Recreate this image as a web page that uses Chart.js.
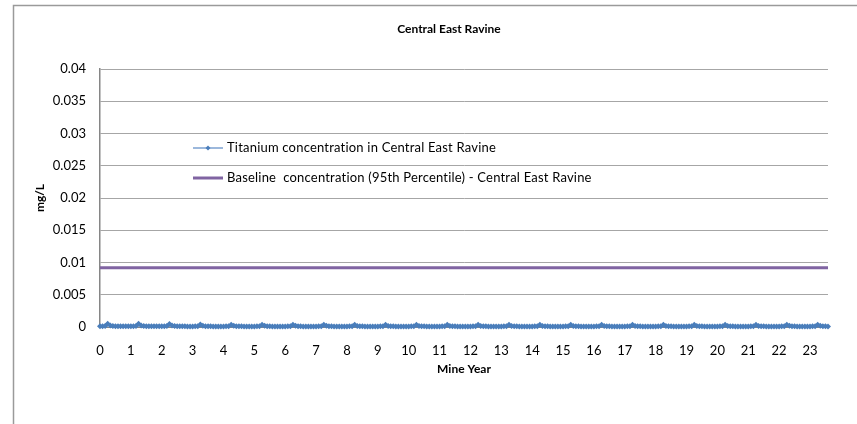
<!DOCTYPE html>
<html>
<head>
<meta charset="utf-8">
<title>Central East Ravine</title>
<script src="https://cdn.jsdelivr.net/npm/chart.js@4/dist/chart.umd.min.js"></script>
<style>
  html, body { margin: 0; padding: 0; background: #fff; }
  #wrap { position: relative; width: 857px; height: 424px; }
</style>
</head>
<body>
<div id="wrap"><canvas id="ravineChart"></canvas></div>
<script>
// Monthly titanium concentration (mg/L), one row per mine year
const titanium = [
  0.00010, 0.00010, 0.00015, 0.00050, 0.00025, 0.00015, 0.00012, 0.00010, 0.00010, 0.00010, 0.00010, 0.00010, // 0
  0.00010, 0.00010, 0.00015, 0.00050, 0.00022, 0.00015, 0.00012, 0.00010, 0.00010, 0.00010, 0.00010, 0.00010, // 1
  0.00010, 0.00010, 0.00015, 0.00048, 0.00022, 0.00015, 0.00012, 0.00010, 0.00010, 0.00010, 0.00008, 0.00008, // 2
  0.00008, 0.00010, 0.00012, 0.00038, 0.00020, 0.00012, 0.00010, 0.00010, 0.00008, 0.00008, 0.00008, 0.00008, // 3
  0.00008, 0.00010, 0.00012, 0.00036, 0.00018, 0.00012, 0.00010, 0.00010, 0.00008, 0.00008, 0.00008, 0.00008, // 4
  0.00008, 0.00010, 0.00012, 0.00036, 0.00018, 0.00012, 0.00010, 0.00008, 0.00008, 0.00008, 0.00008, 0.00008, // 5
  0.00008, 0.00010, 0.00012, 0.00035, 0.00018, 0.00012, 0.00010, 0.00008, 0.00008, 0.00008, 0.00008, 0.00008, // 6
  0.00008, 0.00010, 0.00012, 0.00035, 0.00018, 0.00012, 0.00010, 0.00008, 0.00008, 0.00008, 0.00008, 0.00008, // 7
  0.00008, 0.00010, 0.00012, 0.00034, 0.00016, 0.00012, 0.00010, 0.00008, 0.00008, 0.00008, 0.00008, 0.00008, // 8
  0.00008, 0.00010, 0.00012, 0.00034, 0.00016, 0.00012, 0.00010, 0.00008, 0.00008, 0.00008, 0.00008, 0.00008, // 9
  0.00008, 0.00010, 0.00012, 0.00034, 0.00016, 0.00012, 0.00010, 0.00008, 0.00008, 0.00008, 0.00008, 0.00008, // 10
  0.00008, 0.00010, 0.00012, 0.00034, 0.00016, 0.00012, 0.00010, 0.00008, 0.00008, 0.00008, 0.00008, 0.00008, // 11
  0.00008, 0.00010, 0.00012, 0.00033, 0.00016, 0.00012, 0.00010, 0.00008, 0.00008, 0.00008, 0.00008, 0.00008, // 12
  0.00008, 0.00010, 0.00012, 0.00033, 0.00016, 0.00012, 0.00010, 0.00008, 0.00008, 0.00008, 0.00008, 0.00008, // 13
  0.00008, 0.00010, 0.00012, 0.00033, 0.00016, 0.00012, 0.00010, 0.00008, 0.00008, 0.00008, 0.00008, 0.00008, // 14
  0.00008, 0.00010, 0.00012, 0.00034, 0.00016, 0.00012, 0.00010, 0.00008, 0.00008, 0.00008, 0.00008, 0.00008, // 15
  0.00008, 0.00010, 0.00012, 0.00034, 0.00016, 0.00012, 0.00010, 0.00008, 0.00008, 0.00008, 0.00008, 0.00008, // 16
  0.00008, 0.00010, 0.00012, 0.00033, 0.00016, 0.00012, 0.00010, 0.00008, 0.00008, 0.00008, 0.00008, 0.00008, // 17
  0.00008, 0.00010, 0.00012, 0.00034, 0.00016, 0.00012, 0.00010, 0.00008, 0.00008, 0.00008, 0.00008, 0.00008, // 18
  0.00008, 0.00010, 0.00012, 0.00035, 0.00016, 0.00012, 0.00010, 0.00008, 0.00008, 0.00008, 0.00008, 0.00008, // 19
  0.00008, 0.00010, 0.00012, 0.00035, 0.00016, 0.00012, 0.00010, 0.00008, 0.00008, 0.00008, 0.00008, 0.00008, // 20
  0.00008, 0.00010, 0.00012, 0.00035, 0.00016, 0.00012, 0.00010, 0.00008, 0.00008, 0.00008, 0.00008, 0.00008, // 21
  0.00008, 0.00010, 0.00012, 0.00036, 0.00018, 0.00012, 0.00010, 0.00008, 0.00008, 0.00008, 0.00008, 0.00008, // 22
  0.00008, 0.00010, 0.00012, 0.00036, 0.00018, 0.00012, 0.00010, 0.00008                                        // 23
];

// 95th percentile baseline (mg/L)
const baselineValue = 0.0092;

// categories are months since start of mining; axis is labelled in years
const monthsPerYear = 12;
const months = titanium.map((v, i) => i);
const yearTicks = [0, 1, 2, 3, 4, 5, 6, 7, 8, 9, 10, 11, 12, 13, 14, 15, 16, 17, 18, 19, 20, 21, 22, 23];
const yTicks = ['0', '0.005', '0.01', '0.015', '0.02', '0.025', '0.03', '0.035', '0.04'];

const seriesLabels = [
  'Titanium concentration in Central East Ravine',
  'Baseline  concentration (95th Percentile) - Central East Ravine'
];
const seriesColors = ['#4a7ebb', '#8064a2'];

Chart.defaults.font.family = 'Lato, "Open Sans", sans-serif';
Chart.defaults.font.size = 13;
Chart.defaults.color = '#000';

// draws the outer chart frame, title and the in-plot legend (Excel style)
const excelFrame = {
  id: 'excelFrame',
  beforeDraw(chart) {
    const ctx = chart.ctx;
    ctx.save();
    ctx.strokeStyle = '#9a9a9a';
    ctx.lineWidth = 1.5;
    ctx.beginPath();
    ctx.moveTo(13.5, 424);
    ctx.lineTo(13.5, 5.5);
    ctx.lineTo(857, 5.5);
    ctx.stroke();
    ctx.restore();
  },
  afterDraw(chart) {
    const ctx = chart.ctx;
    ctx.save();
    ctx.fillStyle = '#000';
    ctx.font = 'bold 12px Lato, sans-serif';
    ctx.textAlign = 'center';
    ctx.textBaseline = 'middle';
    ctx.fillText('Central East Ravine', 449, 29);

    // legend rows
    const rows = [148, 178];
    ctx.font = '13px Lato, sans-serif';
    ctx.letterSpacing = '0.2px';
    ctx.textAlign = 'left';
    rows.forEach((y, i) => {
      ctx.strokeStyle = i === 0 ? '#7ba1d0' : seriesColors[1];
      ctx.lineWidth = i === 0 ? 1.5 : 3;
      ctx.beginPath();
      ctx.moveTo(193, y);
      ctx.lineTo(223, y);
      ctx.stroke();
      if (i === 0) {
        ctx.fillStyle = seriesColors[0];
        ctx.beginPath();
        ctx.moveTo(208, y - 2.5);
        ctx.lineTo(210.5, y);
        ctx.lineTo(208, y + 2.5);
        ctx.lineTo(205.5, y);
        ctx.closePath();
        ctx.fill();
      }
      ctx.fillStyle = '#000';
      ctx.fillText(seriesLabels[i], 227, y);
    });
    ctx.restore();
  }
};

const ctx = document.getElementById('ravineChart').getContext('2d');

const ravineChart = new Chart(ctx, {
  type: 'line',
  data: {
    labels: months,
    datasets: [{
      label: seriesLabels[0],
      data: titanium,
      borderColor: seriesColors[0],
      backgroundColor: seriesColors[0],
      borderWidth: 2,
      pointStyle: 'rectRot',
      pointRadius: 3,
      pointBorderWidth: 0,
      pointBackgroundColor: seriesColors[0],
      tension: 0,
      clip: 5
    }, {
      label: seriesLabels[1],
      data: new Array(titanium.length).fill(baselineValue),
      borderColor: seriesColors[1],
      borderWidth: 3,
      pointRadius: 0,
      tension: 0
    }]
  },
  options: {
    responsive: true,
    maintainAspectRatio: false,
    animation: false,
    layout: {
      padding: { top: 69, right: 29, bottom: 0, left: 0 }
    },
    plugins: {
      legend: { display: false },
      title: { display: false },
      tooltip: { enabled: false }
    },
    scales: {
      x: {
        type: 'category',
        grid: { display: false },
        border: { display: true, color: '#868686', width: 1 },
        ticks: {
          autoSkip: false,
          maxRotation: 0,
          padding: 8,
          callback: function(value, index) {
            return index % monthsPerYear === 0 ? String(yearTicks[index / monthsPerYear]) : null;
          }
        },
        title: {
          display: true,
          text: 'Mine Year',
          font: { weight: 'bold', size: 12 },
          padding: { top: 0, bottom: 48 }
        },
        afterFit: function(scale) { scale.height = 97; }
      },
      y: {
        min: 0,
        max: 0.04,
        grid: { color: '#a6a6a6', lineWidth: 1, drawTicks: false },
        border: { display: true, color: '#868686', width: 1.5 },
        ticks: {
          stepSize: 0.005,
          padding: 14,
          callback: function(value, index) {
            return yTicks[index];
          }
        },
        title: {
          display: true,
          text: 'mg/L',
          font: { weight: 'bold', size: 12 },
          padding: { top: 33, bottom: 0 }
        },
        afterFit: function(scale) { scale.width = 100; }
      }
    }
  },
  plugins: [excelFrame]
});
</script>
</body>
</html>
